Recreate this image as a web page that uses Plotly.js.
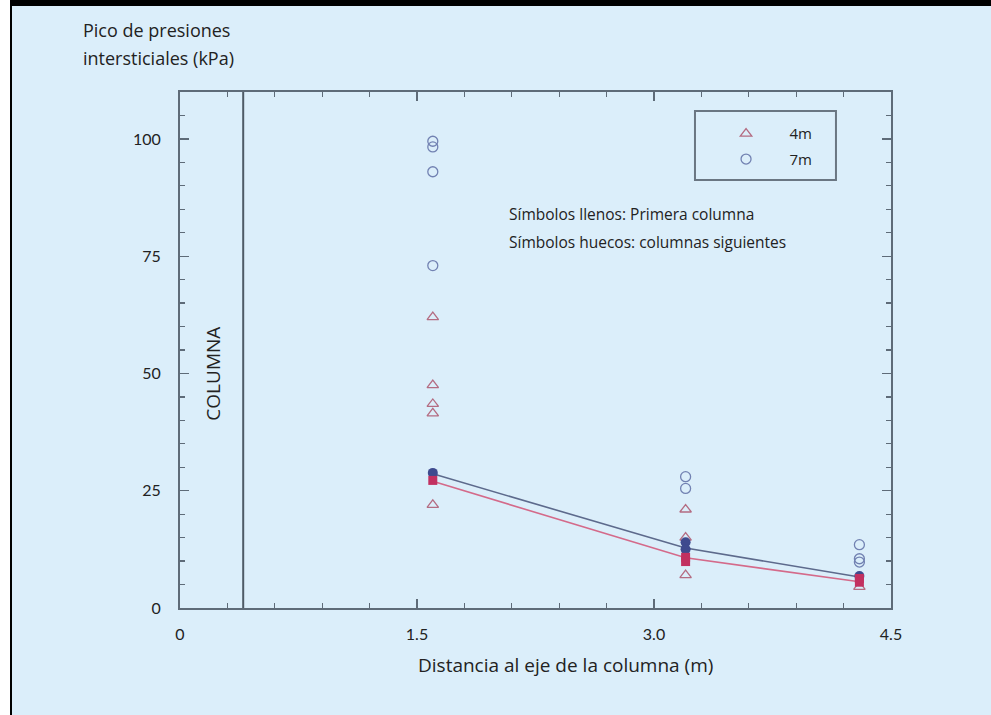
<!DOCTYPE html>
<html>
<head>
<meta charset="utf-8">
<script src="https://cdn.plot.ly/plotly-3.0.1.min.js"></script>
<style>
  html, body { margin: 0; padding: 0; background: #ffffff; width: 991px; height: 715px; overflow: hidden; }
  #frame { position: absolute; left: 10px; top: 0; border-top: 6px solid #000; border-left: 2px solid #000; background: #dbeefa; }
  #chart { width: 979px; height: 709px; }
</style>
</head>
<body>
<div id="frame"><div id="chart"></div></div>
<script>
// ---- data ----
const hollow4mX = [1.6, 1.6, 1.6, 1.6, 1.6, 3.2, 3.2, 3.2, 4.3];
const hollow4mY = [62, 47.5, 43.5, 41.5, 22, 21, 15, 7, 4.5];
const hollow7mX = [1.6, 1.6, 1.6, 1.6, 3.2, 3.2, 4.3, 4.3, 4.3];
const hollow7mY = [99.5, 98.3, 93, 73, 28, 25.5, 13.5, 10.5, 9.8];
const filled7mX = [1.6, 3.2, 3.2, 4.3];
const filled7mY = [28.8, 14, 12.5, 6.8];
const filled4mX = [1.6, 3.2, 3.2, 4.3, 4.3];
const filled4mY = [27.2, 10.8, 9.9, 6.3, 5.5];
const fitX = [1.6, 3.2, 4.3];
const fit7mY = [28.6, 12.8, 6.6];
const fit4mY = [27.0, 10.7, 5.6];
const xTickVals = [0, 1.5, 3.0, 4.5];
const xTickText = ["0", "1.5", "3.0", "4.5"];
const yTickVals = [0, 25, 50, 75, 100];
const yTickText = ["0", "25", "50", "75", "100"];
const columnX = 0.4;
const seriesNames = ["4m", "7m"];
const yTitleLines = ["Pico de presiones", "intersticiales (kPa)"];
const xTitle = "Distancia al eje de la columna (m)";
const noteLines = ["Símbolos llenos: Primera columna", "Símbolos huecos: columnas siguientes"];

const FONT = "'Open Sans', Lato, sans-serif";
const TICKFONT = "Lato, 'Open Sans', sans-serif";
const sp = "\u00a0\u00a0\u00a0\u00a0\u00a0\u00a0";

const traces = [
  { x: fitX, y: fit7mY, mode: "lines", line: { color: "#5d6a8c", width: 1.6 }, showlegend: false, hoverinfo: "skip" },
  { x: fitX, y: fit4mY, mode: "lines", line: { color: "#d46a8a", width: 1.6 }, showlegend: false, hoverinfo: "skip" },
  { x: hollow4mX, y: hollow4mY, mode: "markers", name: sp + seriesNames[0], legendgroup: "a",
    marker: { symbol: "triangle-up-open", size: 10, color: "#b46c82", line: { width: 1.3 } } },
  { x: hollow7mX, y: hollow7mY, mode: "markers", name: sp + seriesNames[1], legendgroup: "b",
    marker: { symbol: "circle-open", size: 10, color: "#7282b2", line: { width: 1.3 } } },
  { x: filled7mX, y: filled7mY, mode: "markers", showlegend: false,
    marker: { symbol: "circle", size: 10, color: "#3e4a8e" } },
  { x: filled4mX, y: filled4mY, mode: "markers", showlegend: false,
    marker: { symbol: "square", size: 9, color: "#c23060" } }
];

const axisCommon = {
  showgrid: false, zeroline: false, showline: true, linecolor: "#5e6b78", linewidth: 2,
  mirror: "allticks", ticks: "inside", ticklen: 9, tickwidth: 1.3, tickcolor: "#5e6b78",
  tickfont: { family: TICKFONT, size: 16, color: "#222" }
};

const layout = {
  width: 979, height: 709,
  paper_bgcolor: "#dbeefa", plot_bgcolor: "#dbeefa",
  margin: { l: 168, r: 100, t: 86, b: 107 },
  font: { family: FONT, color: "#222" },
  xaxis: Object.assign({}, axisCommon, {
    range: [0, 4.5], tickvals: xTickVals, ticktext: xTickText, ticklabelstandoff: 11,
    minor: { dtick: 0.3, tick0: 0, ticks: "inside", ticklen: 5, tickcolor: "#5e6b78", tickwidth: 1.2 }
  }),
  yaxis: Object.assign({}, axisCommon, {
    range: [0, 110], tickvals: yTickVals, ticktext: yTickText, ticklabelstandoff: 14,
    minor: { dtick: 5, tick0: 0, ticks: "inside", ticklen: 5, tickcolor: "#5e6b78", tickwidth: 1.2 }
  }),
  showlegend: true,
  legend: {
    x: 0.768, y: 0.951, xanchor: "left", yanchor: "top",
    bgcolor: "rgba(0,0,0,0)", borderwidth: 0,
    font: { family: FONT, size: 15, color: "#222" },
    traceorder: "grouped", tracegroupgap: 3, itemwidth: 30
  },
  shapes: [
    { type: "line", xref: "x", yref: "paper", x0: columnX, x1: columnX, y0: 0, y1: 1,
      line: { color: "#4e5a66", width: 2 } },
    { type: "rect", xref: "paper", yref: "paper", x0: 0.7243, x1: 0.9226, y0: 0.8295, y1: 0.963,
      line: { color: "#6a7682", width: 2 }, fillcolor: "rgba(0,0,0,0)" }
  ],
  annotations: [
    { text: yTitleLines[0], xref: "paper", yref: "paper",
      x: -0.139, y: 1.120, xanchor: "left", yanchor: "middle", align: "left", showarrow: false,
      font: { family: FONT, size: 18, color: "#222" } },
    { text: yTitleLines[1], xref: "paper", yref: "paper",
      x: -0.139, y: 1.066, xanchor: "left", yanchor: "middle", align: "left", showarrow: false,
      font: { family: FONT, size: 18, color: "#222" } },
    { text: xTitle, xref: "paper", yref: "paper",
      x: 0.5415, y: -0.110, xanchor: "center", yanchor: "middle", showarrow: false,
      font: { family: FONT, size: 19, color: "#222" } },
    { text: "COLUMNA", xref: "x", yref: "y", x: 0.21, y: 50, textangle: -90, showarrow: false,
      font: { family: FONT, size: 19, color: "#222" } },
    { text: noteLines[0], xref: "paper", yref: "paper",
      x: 0.46, y: 0.763, xanchor: "left", yanchor: "middle", showarrow: false,
      font: { family: FONT, size: 15.5, color: "#222" } },
    { text: noteLines[1], xref: "paper", yref: "paper",
      x: 0.46, y: 0.709, xanchor: "left", yanchor: "middle", showarrow: false,
      font: { family: FONT, size: 15.5, color: "#222" } }
  ]
};

Plotly.newPlot("chart", traces, layout, { displayModeBar: false, staticPlot: true });
</script>
</body>
</html>
